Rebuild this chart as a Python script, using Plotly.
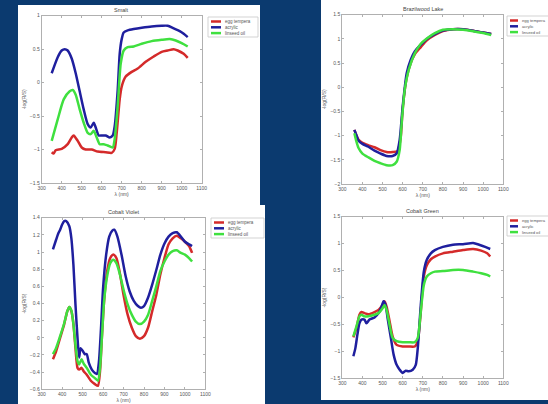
import plotly.graph_objects as go

# ---------------- data ----------------
series_names = ["egg tempera", "acrylic", "linseed oil"]

# Smalt
smalt_egg_x = [350, 360, 370, 400, 430, 450, 460, 480, 500, 520, 550, 580, 620, 650, 665, 675, 690, 700, 720, 750, 780, 820, 860, 900, 930, 960, 980, 1010, 1030]
smalt_egg_y = [-1.04, -1.06, -1.01, -0.99, -0.92, -0.82, -0.79, -0.87, -0.97, -1.0, -1.0, -1.03, -1.04, -1.05, -0.99, -0.75, -0.25, -0.06, 0.09, 0.16, 0.21, 0.31, 0.39, 0.46, 0.48, 0.50, 0.48, 0.43, 0.37]
smalt_acr_x = [350, 380, 400, 415, 430, 450, 470, 490, 510, 530, 545, 560, 570, 585, 600, 620, 640, 655, 665, 680, 690, 700, 710, 730, 760, 800, 850, 900, 930, 960, 990, 1010, 1030]
smalt_acr_y = [0.14, 0.38, 0.48, 0.50, 0.48, 0.36, 0.14, -0.13, -0.40, -0.62, -0.67, -0.60, -0.67, -0.79, -0.79, -0.79, -0.82, -0.79, -0.65, -0.11, 0.43, 0.65, 0.75, 0.78, 0.80, 0.82, 0.84, 0.85, 0.85, 0.81, 0.77, 0.73, 0.68]
smalt_lin_x = [350, 380, 410, 440, 455, 470, 490, 510, 530, 545, 560, 575, 590, 610, 630, 655, 665, 680, 695, 710, 730, 760, 800, 850, 900, 940, 970, 1000, 1030]
smalt_lin_y = [-0.87, -0.55, -0.25, -0.13, -0.11, -0.18, -0.40, -0.60, -0.75, -0.77, -0.72, -0.82, -0.92, -0.92, -0.94, -0.97, -0.84, -0.35, 0.28, 0.48, 0.53, 0.54, 0.58, 0.62, 0.64, 0.65, 0.63, 0.59, 0.54]

# Brazilwood Lake
braz_egg_x = [360, 380, 400, 430, 460, 490, 520, 550, 575, 590, 600, 620, 640, 660, 690, 720, 760, 800, 850, 900, 950, 1000, 1040]
braz_egg_y = [-0.88, -1.08, -1.15, -1.20, -1.24, -1.30, -1.34, -1.34, -1.32, -1.05, -0.45, 0.20, 0.50, 0.68, 0.83, 0.97, 1.08, 1.16, 1.20, 1.20, 1.17, 1.13, 1.10]
braz_acr_x = [360, 370, 380, 400, 430, 460, 490, 520, 550, 570, 585, 600, 620, 640, 660, 690, 720, 760, 800, 850, 900, 950, 1000, 1040]
braz_acr_y = [-0.88, -0.99, -1.10, -1.17, -1.23, -1.31, -1.37, -1.42, -1.42, -1.37, -1.09, -0.40, 0.29, 0.57, 0.74, 0.88, 1.00, 1.10, 1.17, 1.20, 1.20, 1.17, 1.13, 1.10]
braz_lin_x = [360, 370, 380, 400, 430, 460, 490, 520, 550, 570, 585, 595, 610, 630, 660, 690, 720, 760, 800, 850, 900, 950, 1000, 1040]
braz_lin_y = [-0.95, -1.12, -1.25, -1.37, -1.45, -1.52, -1.57, -1.61, -1.61, -1.54, -1.30, -0.74, -0.06, 0.36, 0.70, 0.90, 1.01, 1.12, 1.19, 1.20, 1.19, 1.16, 1.12, 1.08]

# Cobalt Violet
cv_x = [355, 370, 390, 410, 425, 435, 445, 455, 465, 475, 483, 495, 505, 520, 540, 560, 575, 585, 595, 605, 620, 635, 650, 665, 680, 700, 720, 740, 760, 780, 800, 820, 840, 860, 880, 900, 920, 940, 960, 980, 1000, 1020, 1035]
cv_egg_y = [-0.25, -0.16, 0.0, 0.16, 0.31, 0.36, 0.31, 0.16, -0.12, -0.35, -0.37, -0.35, -0.39, -0.43, -0.50, -0.54, -0.56, -0.39, 0.04, 0.43, 0.78, 0.93, 0.97, 0.93, 0.78, 0.50, 0.27, 0.12, 0.02, -0.01, 0.02, 0.12, 0.31, 0.50, 0.74, 0.93, 1.09, 1.16, 1.19, 1.16, 1.12, 1.07, 0.99]
cv_lin_y = [-0.19, -0.12, 0.02, 0.17, 0.31, 0.36, 0.32, 0.16, -0.08, -0.27, -0.31, -0.25, -0.30, -0.35, -0.43, -0.47, -0.50, -0.35, 0.04, 0.43, 0.72, 0.87, 0.91, 0.87, 0.76, 0.56, 0.39, 0.27, 0.19, 0.16, 0.19, 0.27, 0.43, 0.60, 0.78, 0.89, 0.97, 1.01, 1.02, 0.99, 0.97, 0.93, 0.89]
cv_acr_x = [355, 370, 380, 390, 400, 410, 420, 435, 445, 455, 465, 475, 483, 490, 500, 510, 520, 530, 545, 560, 570, 580, 590, 600, 615, 630, 645, 655, 670, 690, 710, 730, 750, 770, 785, 800, 820, 840, 860, 880, 900, 920, 940, 960, 980, 1000, 1020, 1035]
cv_acr_y = [1.03, 1.14, 1.21, 1.26, 1.32, 1.36, 1.36, 1.30, 1.16, 0.85, 0.39, 0.0, -0.23, -0.12, -0.15, -0.19, -0.19, -0.29, -0.37, -0.41, -0.42, -0.27, 0.12, 0.58, 0.97, 1.18, 1.25, 1.26, 1.18, 0.97, 0.72, 0.54, 0.43, 0.37, 0.35, 0.37, 0.47, 0.62, 0.79, 0.97, 1.10, 1.18, 1.22, 1.23, 1.18, 1.12, 1.09, 1.07]

# Cobalt Green
cg_x = [355, 370, 385, 395, 410, 430, 460, 480, 500, 510, 520, 535, 550, 570, 600, 630, 660, 675, 690, 705, 720, 740, 760, 800, 850, 900, 950, 990, 1020, 1035]
cg_egg_y = [-0.74, -0.57, -0.32, -0.27, -0.29, -0.31, -0.27, -0.23, -0.14, -0.07, -0.17, -0.44, -0.72, -0.88, -0.91, -0.91, -0.91, -0.81, -0.26, 0.39, 0.60, 0.71, 0.76, 0.82, 0.85, 0.88, 0.90, 0.87, 0.82, 0.76]
cg_lin_y = [-0.72, -0.54, -0.35, -0.32, -0.35, -0.35, -0.32, -0.29, -0.20, -0.14, -0.23, -0.51, -0.75, -0.81, -0.83, -0.83, -0.83, -0.75, -0.26, 0.23, 0.39, 0.45, 0.48, 0.49, 0.51, 0.51, 0.48, 0.45, 0.42, 0.39]
cg_acr_x = [355, 365, 375, 385, 395, 410, 420, 435, 460, 480, 495, 505, 515, 525, 540, 555, 570, 585, 600, 615, 630, 650, 665, 675, 690, 705, 720, 740, 760, 800, 850, 900, 950, 980, 1010, 1035]
cg_acr_y = [-1.09, -0.94, -0.69, -0.48, -0.41, -0.41, -0.48, -0.41, -0.37, -0.29, -0.17, -0.07, -0.14, -0.38, -0.72, -1.06, -1.25, -1.34, -1.40, -1.36, -1.37, -1.34, -1.25, -0.94, -0.14, 0.48, 0.70, 0.82, 0.88, 0.94, 0.98, 0.99, 1.01, 0.98, 0.94, 0.90]

titles = ["Smalt", "Brazilwood Lake", "Cobalt Violet", "Cobalt Green"]
x_ticks = [300, 400, 500, 600, 700, 800, 900, 1000, 1100]
y_ticks_smalt = [-1.5, -1, -0.5, 0, 0.5, 1]
y_ticks_braz = [-2, -1.5, -1, -0.5, 0, 0.5, 1, 1.5]
y_ticks_cv = [-0.6, -0.4, -0.2, 0, 0.2, 0.4, 0.6, 0.8, 1, 1.2, 1.4]
y_ticks_cg = [-1.5, -1, -0.5, 0, 0.5, 1, 1.5]

# ---------------- style / layout ----------------
W, H = 548, 404
BG = "#0b3a6f"
COLORS = ["#d42a2a", "#1f1f9e", "#3fe03f"]
FONT = "Liberation Sans"
TXT = "#555"

def fx(px):
    return px / W

def fy(py):
    return 1 - py / H

# legend box: (left, top, width, height, swatch length, font size)
panels = [
    dict(title=titles[0], xd=(41.7, 201.7), yd=(15.7, 183), yr=(-1.5, 1), yt=y_ticks_smalt,
         data=[(smalt_egg_x, smalt_egg_y), (smalt_acr_x, smalt_acr_y), (smalt_lin_x, smalt_lin_y)],
         leg=(208, 17, 50, 20, 10, 4.5)),
    dict(title=titles[1], xd=(342.3, 503.3), yd=(14.7, 184), yr=(-2, 1.5), yt=y_ticks_braz,
         data=[(braz_egg_x, braz_egg_y), (braz_acr_x, braz_acr_y), (braz_lin_x, braz_lin_y)],
         leg=(507, 16, 50, 20, 8, 4.1)),
    dict(title=titles[2], xd=(41.7, 205.4), yd=(217.7, 389.3), yr=(-0.6, 1.4), yt=y_ticks_cv,
         data=[(cv_x, cv_egg_y), (cv_acr_x, cv_acr_y), (cv_x, cv_lin_y)],
         leg=(211, 218, 53, 20, 10, 4.5)),
    dict(title=titles[3], xd=(342.3, 503.3), yd=(216.7, 378.3), yr=(-1.5, 1.5), yt=y_ticks_cg,
         data=[(cg_x, cg_egg_y), (cg_acr_x, cg_acr_y), (cg_x, cg_lin_y)],
         leg=(507, 216, 50, 20, 8, 4.1)),
]

fig = go.Figure()
shapes = [
    dict(type="rect", xref="paper", yref="paper", x0=fx(18), x1=fx(260), y0=fy(206), y1=fy(5),
         fillcolor="white", line_width=0, layer="below"),
    dict(type="rect", xref="paper", yref="paper", x0=fx(18), x1=fx(265), y0=fy(404), y1=fy(205),
         fillcolor="white", line_width=0, layer="below"),
    dict(type="rect", xref="paper", yref="paper", x0=fx(321), x1=fx(548), y0=fy(400), y1=fy(0),
         fillcolor="white", line_width=0, layer="below"),
]
annotations = []
layout = dict(
    width=W, height=H, margin=dict(l=0, r=0, t=0, b=0, autoexpand=False),
    paper_bgcolor=BG, plot_bgcolor="white",
    font=dict(family=FONT, size=5, color=TXT),
    showlegend=False,
)

for i, p in enumerate(panels):
    n = i + 1
    xa = "xaxis" if n == 1 else f"xaxis{n}"
    ya = "yaxis" if n == 1 else f"yaxis{n}"
    xr = "x" if n == 1 else f"x{n}"
    yr = "y" if n == 1 else f"y{n}"
    for (xs, ys), name, col in zip(p["data"], series_names, COLORS):
        fig.add_trace(go.Scatter(x=xs, y=ys, mode="lines", name=name, xaxis=xr, yaxis=yr,
                                 line=dict(color=col, width=2.5, shape="spline", smoothing=0.6)))
    common = dict(showline=True, linecolor="#b0b0b0", linewidth=1, mirror="ticks", ticks="inside",
                  ticklen=2, tickcolor="#b0b0b0", showgrid=False, zeroline=False,
                  tickfont=dict(size=5, color=TXT))
    layout[xa] = dict(domain=[fx(p["xd"][0]), fx(p["xd"][1])], range=[300, 1100], tickvals=x_ticks,
                      anchor=yr, title=dict(text="λ (nm)", font=dict(size=5, color=TXT), standoff=2),
                      **common)
    layout[ya] = dict(domain=[fy(p["yd"][1]), fy(p["yd"][0])], range=list(p["yr"]), tickvals=p["yt"],
                      anchor=xr, title=dict(text="-log(R/S)", font=dict(size=5, color=TXT), standoff=3),
                      **common)
    annotations.append(dict(text=p["title"], xref=f"{xr} domain", yref=f"{yr} domain",
                            x=0.5, y=1, yanchor="bottom", showarrow=False, yshift=1,
                            font=dict(size=5.5, color="#444")))
    # compact legend box (MATLAB style)
    lx, ly, lw, lh, sw, fs = p["leg"]
    shapes.append(dict(type="rect", xref="paper", yref="paper", x0=fx(lx), x1=fx(lx + lw),
                       y0=fy(ly + lh), y1=fy(ly), fillcolor="white",
                       line=dict(color="#c8c8c8", width=0.8)))
    for k, (name, col) in enumerate(zip(series_names, COLORS)):
        ry = ly + 4.5 + k * 5.8
        shapes.append(dict(type="line", xref="paper", yref="paper", x0=fx(lx + 3), x1=fx(lx + 3 + sw),
                           y0=fy(ry), y1=fy(ry), line=dict(color=col, width=2.5)))
        annotations.append(dict(text=name, xref="paper", yref="paper", x=fx(lx + 5 + sw), y=fy(ry),
                                xanchor="left", yanchor="middle", showarrow=False,
                                font=dict(size=fs, color=TXT)))

layout["shapes"] = shapes
layout["annotations"] = annotations
fig.update_layout(**layout)
fig.write_html("out.html")
